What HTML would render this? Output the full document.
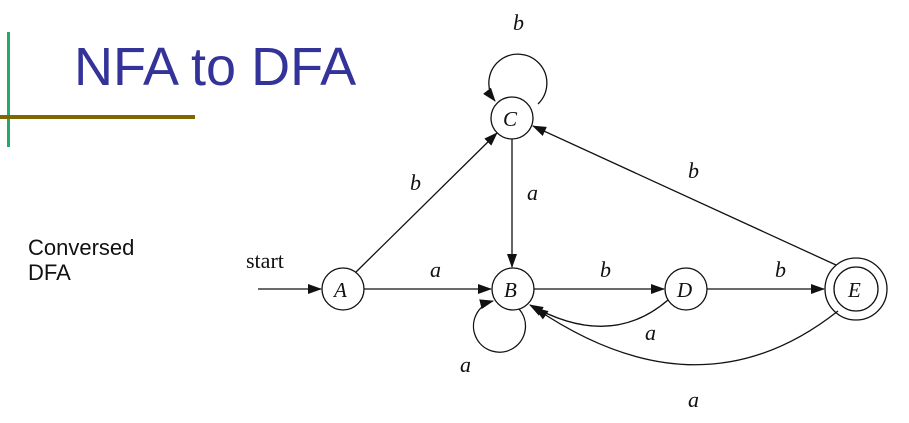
<!DOCTYPE html>
<html><head><style>
body{margin:0;width:909px;height:423px;background:#fff;overflow:hidden;position:relative;font-family:"Liberation Sans",sans-serif}
.t{position:absolute;left:74px;top:36px;font-size:54px;color:#333399;white-space:nowrap}
.c{position:absolute;left:28px;top:235px;font-size:22px;line-height:25px;color:#111}
svg{position:absolute;left:0;top:0}
svg text{font-family:"Liberation Serif",serif;font-style:italic;font-size:22px;fill:#111}
</style></head><body>
<div style="position:absolute;left:7px;top:32px;width:3px;height:115px;background:#22aa66"></div>
<div style="position:absolute;left:0;top:115px;width:195px;height:4px;background:#806600"></div>
<div class="t">NFA to DFA</div>
<div class="c">Conversed<br>DFA</div>
<svg width="909" height="423">
<defs><marker id="m" markerWidth="14" markerHeight="10" refX="13" refY="5" orient="auto" markerUnits="userSpaceOnUse"><path d="M0,0L14,5L0,10z" fill="#111"/></marker></defs>
<g stroke="#111" stroke-width="1.3" fill="none">
<circle cx="343" cy="289" r="21"/>
<circle cx="513" cy="289" r="21"/>
<circle cx="512" cy="118" r="21"/>
<circle cx="686" cy="289" r="21"/>
<circle cx="856" cy="289" r="31"/>
<circle cx="856" cy="289" r="22"/>
<line x1="258" y1="289" x2="321" y2="289" marker-end="url(#m)"/>
<line x1="364" y1="289" x2="491" y2="289" marker-end="url(#m)"/>
<line x1="356" y1="272" x2="497" y2="133" marker-end="url(#m)"/>
<line x1="512" y1="139" x2="512" y2="267" marker-end="url(#m)"/>
<line x1="534" y1="289" x2="664" y2="289" marker-end="url(#m)"/>
<line x1="707" y1="289" x2="824" y2="289" marker-end="url(#m)"/>
<line x1="836" y1="265" x2="533" y2="126" marker-end="url(#m)"/>
<path d="M538,104 A29,29 0 1 0 495,101" marker-end="url(#m)"/>
<path d="M519,309 A26,26 0 1 1 493,301" marker-end="url(#m)"/>
<path d="M668,300 Q610,350 530,305" marker-end="url(#m)"/>
<path d="M838,311 Q700,420 535,308" marker-end="url(#m)"/>
</g>
<text x="246" y="268" style="font-style:normal">start</text>
<text x="430" y="277">a</text>
<text x="410" y="190">b</text>
<text x="527" y="200">a</text>
<text x="513" y="30">b</text>
<text x="600" y="277">b</text>
<text x="775" y="277">b</text>
<text x="688" y="178">b</text>
<text x="645" y="340">a</text>
<text x="460" y="372">a</text>
<text x="688" y="407">a</text>
<text x="334" y="297" style="font-size:21px">A</text>
<text x="504" y="297" style="font-size:21px">B</text>
<text x="503" y="126" style="font-size:21px">C</text>
<text x="677" y="297" style="font-size:21px">D</text>
<text x="848" y="297" style="font-size:21px">E</text>
</svg>
</body></html>
